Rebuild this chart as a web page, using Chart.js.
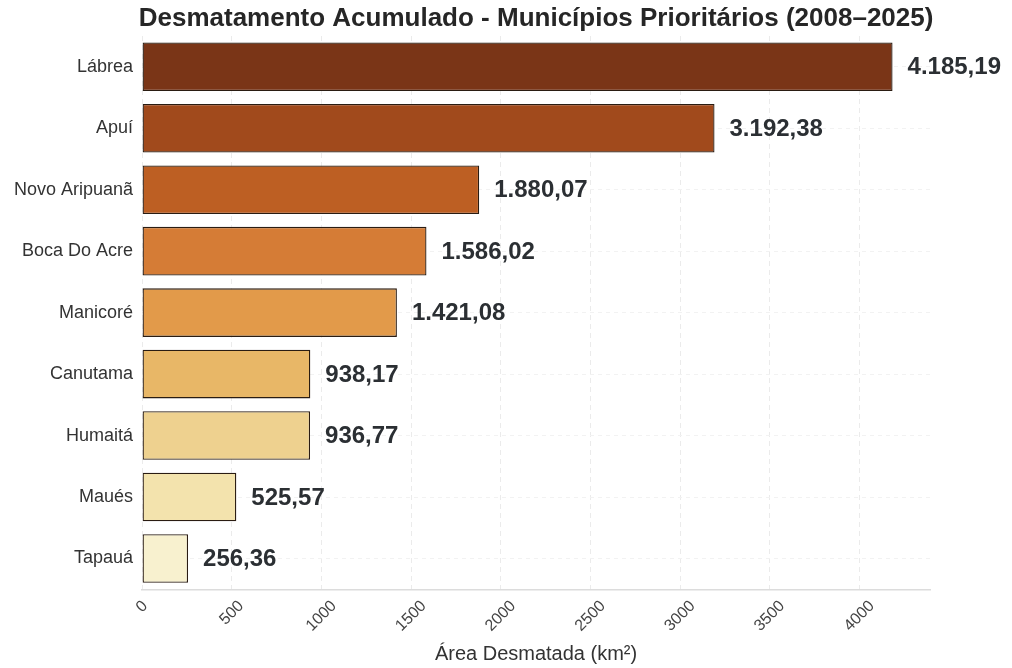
<!DOCTYPE html>
<html>
<head>
<meta charset="utf-8">
<script src="https://cdn.jsdelivr.net/npm/chart.js@4.4.1/dist/chart.umd.min.js"></script>
<style>
  html, body { margin: 0; padding: 0; background: #fff; }
  #wrap { width: 1012px; height: 668px; }
</style>
</head>
<body>
<div id="wrap"><canvas id="chart" width="1012" height="668"></canvas></div>
<script>
const municipios = ["Lábrea", "Apuí", "Novo Aripuanã", "Boca Do Acre", "Manicoré", "Canutama", "Humaitá", "Maués", "Tapauá"];
const areaKm2 = [4185.19, 3192.38, 1880.07, 1586.02, 1421.08, 938.17, 936.77, 525.57, 256.36];
const barColors = ["#7a3517", "#a14a1c", "#bd5f23", "#d57c36", "#e29a4a", "#e8b767", "#eed18f", "#f3e3ad", "#f8f1cf"];
const xTicks = [0, 500, 1000, 1500, 2000, 2500, 3000, 3500, 4000];
const chartTitle = "Desmatamento Acumulado - Municípios Prioritários (2008–2025)";

const FONT = "'Liberation Sans', Arial, sans-serif";
const TICK_FONT = "16px " + FONT;
const fmt = v => v.toLocaleString("pt-BR", { minimumFractionDigits: 2, maximumFractionDigits: 2 });

// title over the plot area, value labels, x tick labels centred on the tick (rotated)
const customText = {
  id: "customText",
  afterDatasetsDraw(chart) {
    const ctx = chart.ctx;
    const area = chart.chartArea;
    const meta = chart.getDatasetMeta(0);
    ctx.save();

    ctx.font = "bold 26px " + FONT;
    ctx.fillStyle = "#262626";
    ctx.textAlign = "center";
    ctx.textBaseline = "middle";
    ctx.fillText(chartTitle, (area.left + area.right) / 2, 19);

    ctx.font = "bold 24px " + FONT;
    ctx.fillStyle = "#2b2f33";
    ctx.textAlign = "left";
    meta.data.forEach((bar, i) => {
      ctx.fillText(fmt(areaKm2[i]), bar.x + 15, bar.y + 1);
    });

    const xs = chart.scales.x;
    ctx.font = TICK_FONT;
    ctx.fillStyle = "#444";
    ctx.textAlign = "center";
    xTicks.forEach(v => {
      const txt = String(v);
      const w = ctx.measureText(txt).width;
      const half = (w + 12) * Math.SQRT1_2 / 2;
      const px = xs.getPixelForValue(v);
      ctx.save();
      ctx.translate(px, xs.top + 10 + half);
      ctx.rotate(-Math.PI / 4);
      ctx.fillText(txt, 0, 0);
      ctx.restore();
    });
    ctx.restore();
  }
};

new Chart(document.getElementById("chart"), {
  type: "bar",
  data: {
    labels: municipios,
    datasets: [{
      data: areaKm2,
      backgroundColor: barColors,
      borderColor: "#2a1c12",
      borderWidth: 1.3,
      borderSkipped: false,
      barPercentage: 0.79,
      categoryPercentage: 1
    }]
  },
  options: {
    indexAxis: "y",
    responsive: false,
    animation: false,
    layout: { padding: { left: 5, right: 82, top: 36, bottom: 0 } },
    plugins: {
      legend: { display: false },
      tooltip: { enabled: false },
      title: { display: false }
    },
    scales: {
      x: {
        min: 0,
        max: 4394,
        afterBuildTicks: scale => { scale.ticks = xTicks.map(v => ({ value: v })); },
        ticks: {
          minRotation: 45,
          maxRotation: 45,
          color: "rgba(0,0,0,0)",
          font: { family: FONT, size: 16 },
          callback: v => String(v),
          padding: 6
        },
        grid: {
          color: "#ebebeb",
          lineWidth: 1,
          drawTicks: false
        },
        border: { display: true, color: "#dcdcdc", dash: [5, 4], width: 1.5 },
        title: {
          display: true,
          text: "Área Desmatada (km²)",
          color: "#333",
          font: { family: FONT, size: 20 },
          padding: { top: 2, bottom: 2 }
        }
      },
      y: {
        ticks: {
          color: "#333",
          font: { family: FONT, size: 18 },
          padding: 9
        },
        grid: {
          offset: false,
          color: "#f2f2f2",
          drawTicks: false
        },
        border: { display: false, dash: [4, 4] }
      }
    }
  },
  plugins: [customText]
});
</script>
</body>
</html>
